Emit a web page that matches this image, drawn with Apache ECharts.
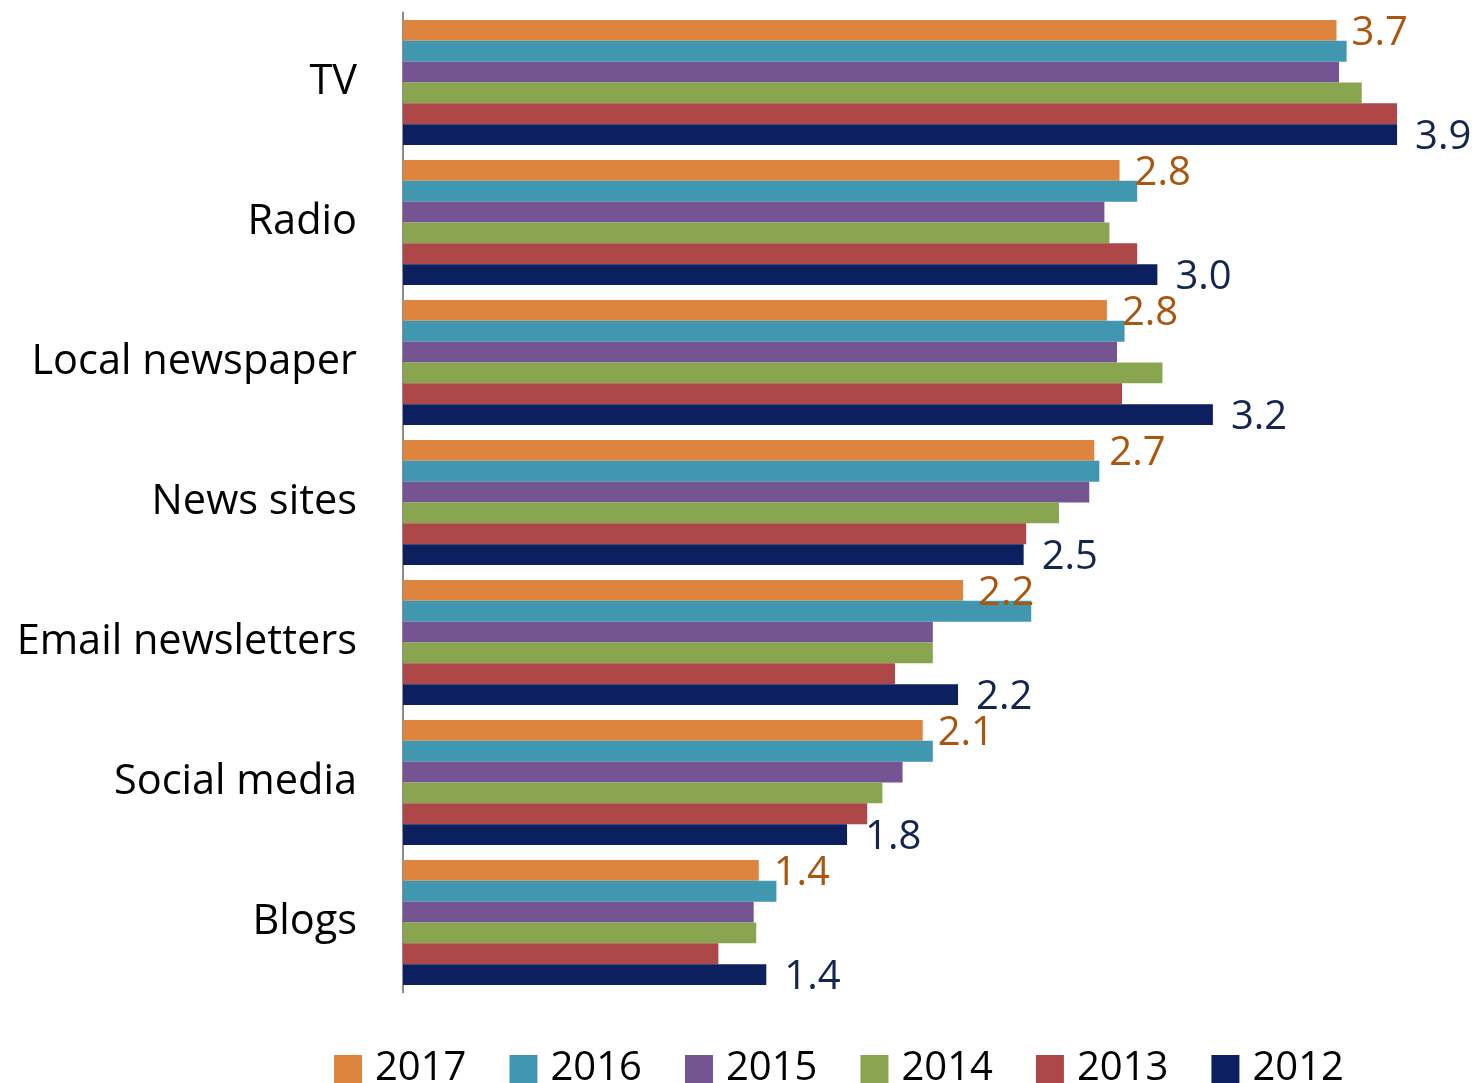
<!DOCTYPE html>
<html>
<head>
<meta charset="utf-8">
<script src="https://cdn.jsdelivr.net/npm/echarts@6/dist/echarts.min.js"></script>
<style>
html,body{margin:0;padding:0;background:#fff;}
#chart{width:1479px;height:1083px;}
</style>
</head>
<body>
<div id="chart"></div>
<script>
const categories = ['TV', 'Radio', 'Local newspaper', 'News sites', 'Email newsletters', 'Social media', 'Blogs'];
const years = ['2017', '2016', '2015', '2014', '2013', '2012'];
const v2017 = [3.70, 2.84, 2.79, 2.74, 2.22, 2.06, 1.41];
const v2016 = [3.74, 2.91, 2.86, 2.76, 2.49, 2.10, 1.48];
const v2015 = [3.71, 2.78, 2.83, 2.72, 2.10, 1.98, 1.39];
const v2014 = [3.80, 2.80, 3.01, 2.60, 2.10, 1.90, 1.40];
const v2013 = [3.94, 2.91, 2.85, 2.47, 1.95, 1.84, 1.25];
const v2012 = [3.94, 2.99, 3.21, 2.46, 2.20, 1.76, 1.44];
const seriesValues = [v2017, v2016, v2015, v2014, v2013, v2012];
const colors = ['#DD843F', '#4197B0', '#745591', '#8AA54F', '#AE4747', '#0C1F5E'];
const labelColors = {'2017': '#A9560F', '2012': '#14264F'};
const labelDistance = {'2017': 15, '2012': 18};

const FONT = 'Open Sans';
const chart = echarts.init(document.getElementById('chart'));
const series = years.map((y, i) => ({
  name: y,
  type: 'bar',
  data: seriesValues[i],
  itemStyle: {color: colors[i]},
  barGap: '0%',
  barCategoryGap: '10.7%',
  label: labelColors[y] ? {
    show: true,
    position: 'right',
    distance: labelDistance[y],
    offset: [0, 3],
    color: labelColors[y],
    fontFamily: FONT,
    fontSize: 40,
    formatter: p => p.value.toFixed(1)
  } : {show: false}
}));

chart.setOption({
  animation: false,
  color: colors,
  grid: {left: 403, top: 12.5, width: 1009.2, height: 980, containLabel: false},
  xAxis: {
    type: 'value', min: 0, max: 4, show: false
  },
  yAxis: {
    type: 'category',
    data: categories,
    inverse: true,
    axisLine: {show: true, lineStyle: {color: '#8c8c8c', width: 2}},
    axisTick: {show: false},
    axisLabel: {color: '#000', fontFamily: FONT, fontSize: 41.5, margin: 46, padding: [5, 0, 0, 0]},
    splitLine: {show: false}
  },
  legend: {
    data: years,
    left: 329,
    top: 1044,
    itemWidth: 28,
    itemHeight: 28,
    itemGap: 43,
    icon: 'rect',
    textStyle: {color: '#000', fontFamily: FONT, fontSize: 40, lineHeight: 40, padding: [0, 0, 0, 8]}
  },
  series: series
});
</script>
</body>
</html>
